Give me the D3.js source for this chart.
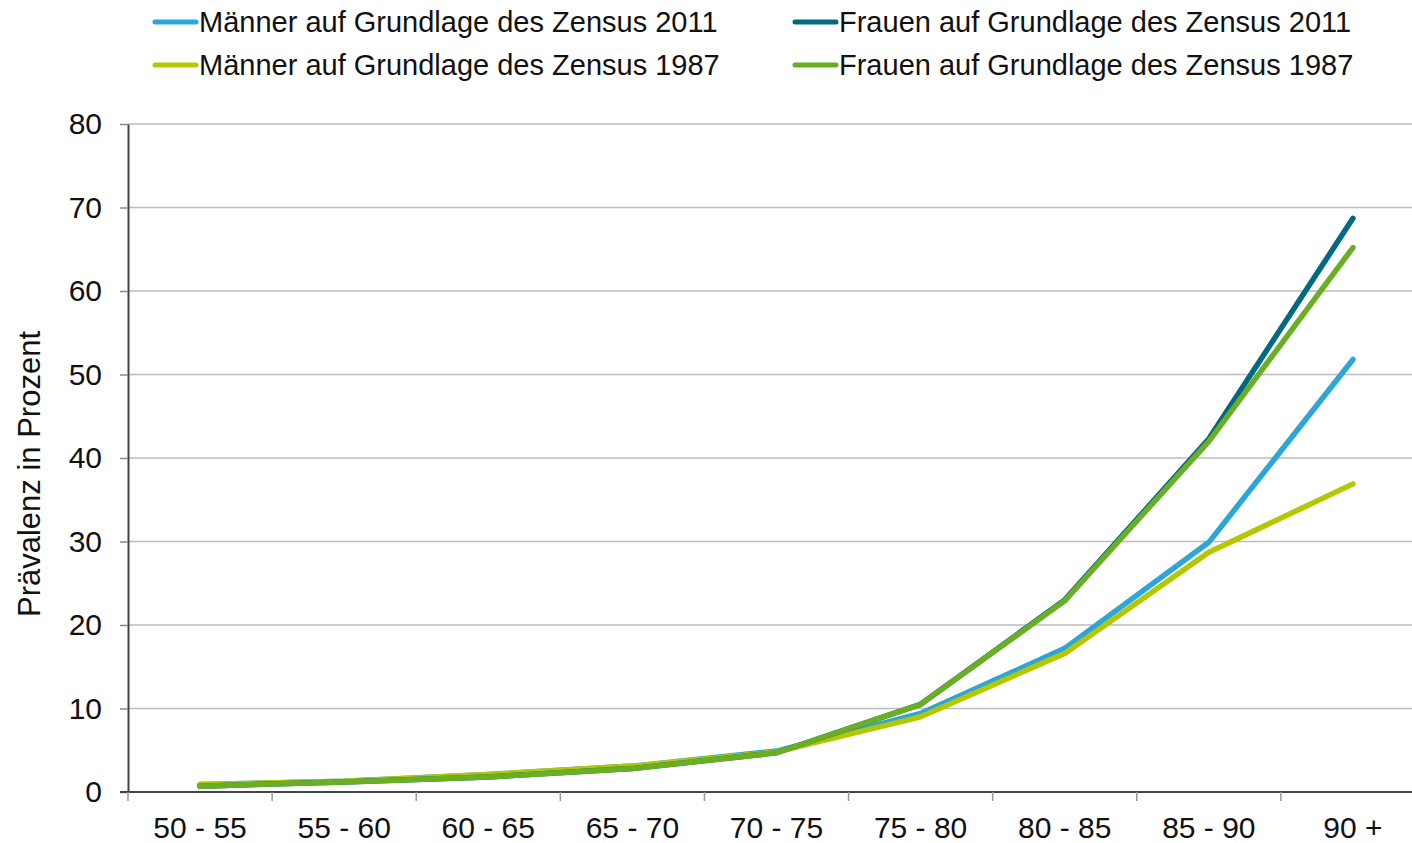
<!DOCTYPE html>
<html>
<head>
<meta charset="utf-8">
<script src="https://cdn.jsdelivr.net/npm/d3@7"></script>
<style>
  body { margin: 0; background: #fff; }
  text { font-family: "Liberation Sans", Arial, sans-serif; fill: #111; }
</style>
</head>
<body>
<svg id="chart"></svg>
<script>
const ageGroups = ["50 - 55", "55 - 60", "60 - 65", "65 - 70", "70 - 75", "75 - 80", "80 - 85", "85 - 90", "90 +"];
const maenner2011 = [0.9, 1.3, 2.1, 3.1, 4.9, 9.4, 17.2, 29.9, 51.8];
const maenner1987 = [0.9, 1.3, 2.1, 3.1, 4.8, 9.0, 16.6, 28.7, 36.9];
const frauen2011 = [0.7, 1.2, 1.8, 2.8, 4.7, 10.5, 23.0, 42.3, 68.7];
const frauen1987 = [0.7, 1.2, 1.8, 2.8, 4.7, 10.5, 22.9, 42.0, 65.2];
const yTicks = [0, 10, 20, 30, 40, 50, 60, 70, 80];

const seriesList = [
    { name: "Männer auf Grundlage des Zensus 2011", values: maenner2011, color: "#2ba6d6" },
    { name: "Männer auf Grundlage des Zensus 1987", values: maenner1987, color: "#b5c700" },
    { name: "Frauen auf Grundlage des Zensus 2011", values: frauen2011, color: "#006b80" },
    { name: "Frauen auf Grundlage des Zensus 1987", values: frauen1987, color: "#69ae23" }
];

const width = 1412;
const height = 843;
const margin = { top: 124, right: -13, bottom: 51, left: 128 };

const svg = d3.select("#chart")
    .attr("width", width)
    .attr("height", height);

const x = d3.scaleBand()
    .domain(ageGroups)
    .range([margin.left, width - margin.right]);

const y = d3.scaleLinear()
    .domain([0, 80])
    .range([height - margin.bottom, margin.top]);

// gridlines
svg.append("g")
    .selectAll("line")
    .data(yTicks.filter(d => d > 0))
    .enter()
    .append("line")
    .attr("x1", margin.left)
    .attr("x2", width)
    .attr("y1", d => y(d))
    .attr("y2", d => y(d))
    .attr("stroke", "#bdbdbd")
    .attr("stroke-width", 1.5);

// y axis
const yAxis = svg.append("g")
    .attr("transform", `translate(${margin.left},0)`)
    .call(d3.axisLeft(y).tickValues(yTicks).tickSize(8).tickPadding(18).tickSizeOuter(0));
yAxis.select(".domain").attr("stroke", "#444").attr("stroke-width", 2);
yAxis.selectAll(".tick line").attr("stroke", "#888").attr("stroke-width", 1.5);
yAxis.selectAll(".tick text")
    .style("font-size", "30px")
    .style("font-family", "'Liberation Sans', Arial, sans-serif")
    .attr("fill", "#111");

// x axis
const xAxis = svg.append("g")
    .attr("transform", `translate(0,${y(0)})`)
    .call(d3.axisBottom(x).tickSize(0).tickPadding(25));
xAxis.select(".domain").remove();
xAxis.selectAll(".tick text")
    .style("font-size", "30px")
    .style("font-family", "'Liberation Sans', Arial, sans-serif")
    .attr("fill", "#111");

svg.append("line")
    .attr("x1", margin.left - 8)
    .attr("x2", width)
    .attr("y1", y(0))
    .attr("y2", y(0))
    .attr("stroke", "#444")
    .attr("stroke-width", 2);

// tick marks between categories
svg.append("g")
    .selectAll("line")
    .data(ageGroups)
    .enter()
    .append("line")
    .attr("x1", d => x(d))
    .attr("x2", d => x(d))
    .attr("y1", y(0))
    .attr("y2", y(0) + 9)
    .attr("stroke", "#999")
    .attr("stroke-width", 1.5);

// y title
svg.append("text")
    .attr("transform", `translate(40, ${(margin.top + height - margin.bottom) / 2 + 16}) rotate(-90)`)
    .attr("text-anchor", "middle")
    .style("font-size", "31px")
    .text("Prävalenz in Prozent");

// lines
const line = d3.line()
    .x((d, i) => x(ageGroups[i]) + x.bandwidth() / 2)
    .y(d => y(d));

svg.append("g")
    .selectAll("path")
    .data(seriesList)
    .enter()
    .append("path")
    .attr("d", d => line(d.values))
    .attr("fill", "none")
    .attr("stroke", d => d.color)
    .attr("stroke-width", 5.5)
    .attr("stroke-linejoin", "round")
    .attr("stroke-linecap", "round");

// legend
const legendPos = [
    { x: 155, y: 22 },
    { x: 155, y: 65 },
    { x: 795, y: 22 },
    { x: 795, y: 65 }
];

const legend = svg.append("g")
    .selectAll("g")
    .data(seriesList)
    .enter()
    .append("g")
    .attr("transform", (d, i) => `translate(${legendPos[i].x},${legendPos[i].y})`);

legend.append("line")
    .attr("x1", 0)
    .attr("x2", 41)
    .attr("y1", 0)
    .attr("y2", 0)
    .attr("stroke", d => d.color)
    .attr("stroke-width", 5)
    .attr("stroke-linecap", "round");

legend.append("text")
    .attr("x", 44)
    .attr("y", 10)
    .style("font-size", "29px")
    .text(d => d.name);
</script>
</body>
</html>
